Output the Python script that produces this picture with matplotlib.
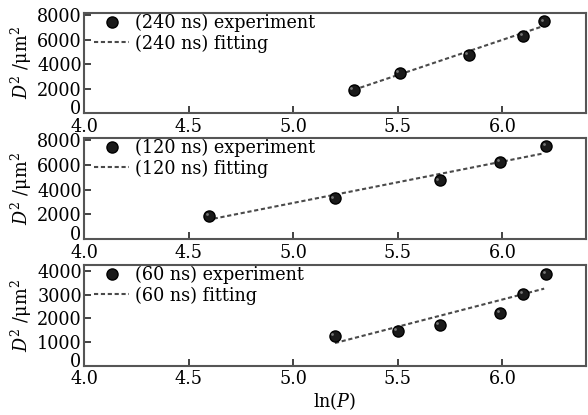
import numpy as np
import matplotlib
matplotlib.use("Agg")
import matplotlib.pyplot as plt
from matplotlib.transforms import ScaledTranslation

plt.rcParams["font.family"] = ["DejaVu Serif"]
plt.rcParams["mathtext.fontset"] = "dejavuserif"
plt.rcParams["font.size"] = 12.7

x_240 = [5.29, 5.51, 5.84, 6.10, 6.20]
d2_240 = [1880, 3270, 4740, 6290, 7510]
fit_x_240 = [5.29, 6.20]
fit_y_240 = [1900, 7150]

x_120 = [4.60, 5.20, 5.70, 5.99, 6.21]
d2_120 = [1880, 3300, 4760, 6260, 7540]
fit_x_120 = [4.62, 6.20]
fit_y_120 = [1650, 6960]

x_60 = [5.20, 5.50, 5.70, 5.99, 6.10, 6.21]
d2_60 = [1260, 1470, 1720, 2220, 3030, 3880]
fit_x_60 = [5.20, 6.20]
fit_y_60 = [950, 3250]

labels = ["240 ns", "120 ns", "60 ns"]
xticks = [4.0, 4.5, 5.0, 5.5, 6.0]
yticks_big = [0, 2000, 4000, 6000, 8000]
yticks_small = [0, 1000, 2000, 3000, 4000]

panels = [
    (x_240, d2_240, fit_x_240, fit_y_240, labels[0], yticks_big, 8200),
    (x_120, d2_120, fit_x_120, fit_y_120, labels[1], yticks_big, 8200),
    (x_60, d2_60, fit_x_60, fit_y_60, labels[2], yticks_small, 4250),
]

fig = plt.figure(figsize=(5.88, 4.15), dpi=100)
W, H = 588, 415
boxes = [(13, 113), (138, 239), (265, 365.5)]
left, right = 84, 586

for (x, y, fx, fy, lab, yt, ytop), (top, bot) in zip(panels, boxes):
    ax = fig.add_axes([left / W, 1 - bot / H, (right - left) / W, (bot - top) / H])

    ax.plot(fx, fy, linestyle=(0, (2.0, 1.3)), color="#4a4a4a", linewidth=1.5,
            label=f"({lab}) fitting", zorder=2)
    ax.plot(x, y, "o", color="#1a1a1a", markeredgecolor="black", markersize=8,
            label=f"({lab}) experiment", zorder=3)
    # little highlight so the dots look like the shaded balls
    ax.plot(np.array(x) - 0.012, np.array(y) + ytop * 0.018, "o", color="#777777",
            markersize=2, markeredgewidth=0, zorder=4)

    ax.set_xlim(4.0, 6.4)
    ax.set_ylim(0, ytop)
    ax.set_xticks(xticks)
    ax.set_xticklabels([f"{t:.1f}" for t in xticks])
    ax.set_yticks(yt)
    ax.tick_params(direction="in", length=5, width=1.2, colors="#222222",
                   labelcolor="black")
    ax.tick_params(axis="x", pad=3.5)
    ax.tick_params(axis="y", pad=1.5)
    for s in ax.spines.values():
        s.set_linewidth(1.5)
        s.set_color("#555555")
    ax.set_ylabel(r"$D^2$ /μm$^2$")
    ax.yaxis.set_label_coords(-0.1, 0.5)

    # the "0" sits a bit higher than its tick, clear of "4.0"
    zero = ax.get_yticklabels()[0]
    zero.set_transform(zero.get_transform() + ScaledTranslation(-1 / 100, 6 / 100, fig.dpi_scale_trans))

    handles, hl = ax.get_legend_handles_labels()
    ax.legend(handles[::-1], hl[::-1], loc="upper left", frameon=False,
              borderaxespad=0.0, borderpad=0.0, handlelength=2.0, handletextpad=0.35,
              labelspacing=0.12, bbox_to_anchor=(0.02, 0.99))

ax.set_xlabel(r"ln($P$)", labelpad=1)

fig.savefig("out.png", dpi=100)
